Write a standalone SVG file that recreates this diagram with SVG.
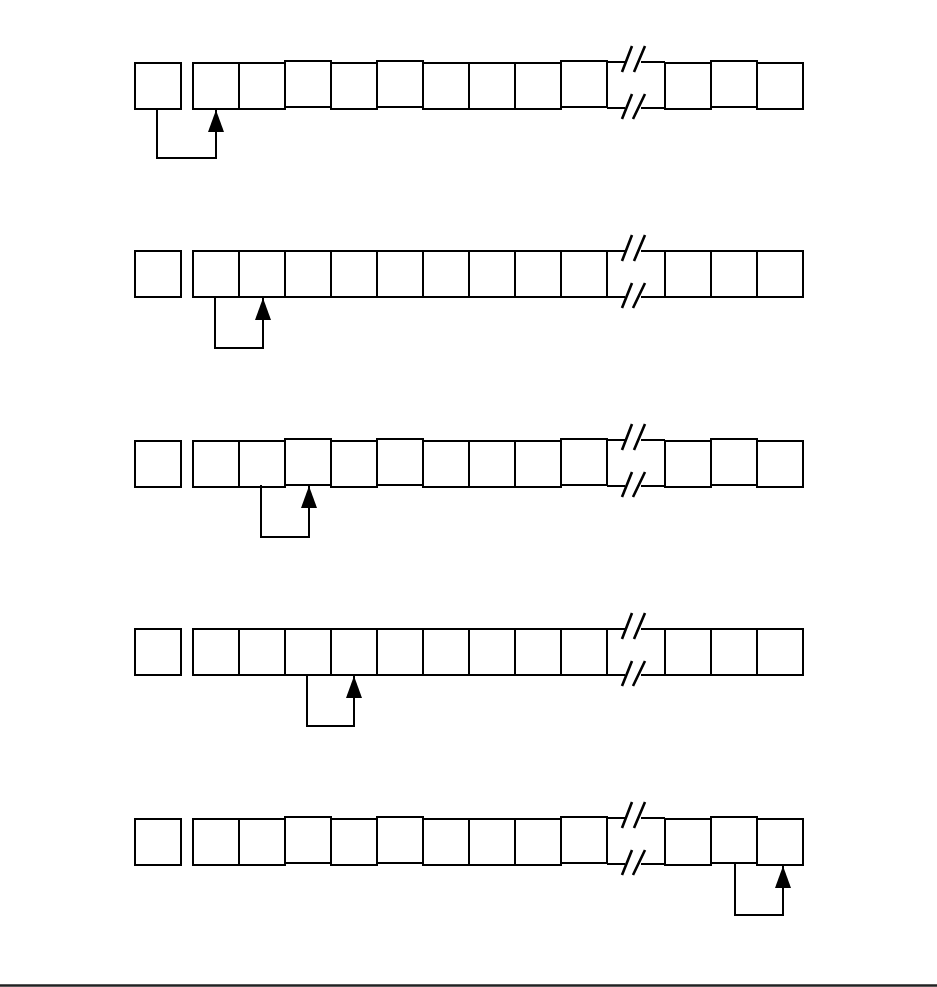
<svg xmlns="http://www.w3.org/2000/svg" width="937" height="987" viewBox="0 0 937 987">
<style>
.b{fill:none;stroke:#000;stroke-width:2}
.k{fill:none;stroke:#000;stroke-width:2}
.s{fill:none;stroke:#000;stroke-width:2.6}
.c{fill:none;stroke:#000;stroke-width:2}
</style>
<defs>
<marker id="ah" viewBox="0 0 22 16" refX="22" refY="8" markerWidth="22" markerHeight="16" markerUnits="userSpaceOnUse" orient="auto">
<path d="M0,0 L22,8 L0,16 z" fill="#000"/>
</marker>
<g id="brk">
<path class="k" d="M607,0 H625 M641,0 H665 M607,46 H625 M641,46 H665"/>
<path class="s" d="M622,10 L632,-16 M634,10 L645,-16 M622,57 L632,32 M633,57 L645,32"/>
</g>
</defs>
<rect width="937" height="987" fill="#fff"/>

<g id="row1">
<g id="r1b0"><rect class="b" x="135" y="63" width="46" height="46"/></g>
<g id="r1b1"><rect class="b" x="193" y="63" width="46" height="46"/></g>
<g id="r1b2"><rect class="b" x="239" y="63" width="46" height="46"/></g>
<g id="r1b3"><rect class="b" x="285" y="61" width="46" height="46"/></g>
<g id="r1b4"><rect class="b" x="331" y="63" width="46" height="46"/></g>
<g id="r1b5"><rect class="b" x="377" y="61" width="46" height="46"/></g>
<g id="r1b6"><rect class="b" x="423" y="63" width="46" height="46"/></g>
<g id="r1b7"><rect class="b" x="469" y="63" width="46" height="46"/></g>
<g id="r1b8"><rect class="b" x="515" y="63" width="46" height="46"/></g>
<g id="r1b9"><rect class="b" x="561" y="61" width="46" height="46"/></g>
<g id="r1brk"><use href="#brk" transform="translate(0,62)"/></g>
<g id="r1b11"><rect class="b" x="665" y="63" width="46" height="46"/></g>
<g id="r1b12"><rect class="b" x="711" y="61" width="46" height="46"/></g>
<g id="r1b13"><rect class="b" x="757" y="63" width="46" height="46"/></g>
</g>

<g id="row2">
<g id="r2b0"><rect class="b" x="135" y="251" width="46" height="46"/></g>
<g id="r2b1"><rect class="b" x="193" y="251" width="46" height="46"/></g>
<g id="r2b2"><rect class="b" x="239" y="251" width="46" height="46"/></g>
<g id="r2b3"><rect class="b" x="285" y="251" width="46" height="46"/></g>
<g id="r2b4"><rect class="b" x="331" y="251" width="46" height="46"/></g>
<g id="r2b5"><rect class="b" x="377" y="251" width="46" height="46"/></g>
<g id="r2b6"><rect class="b" x="423" y="251" width="46" height="46"/></g>
<g id="r2b7"><rect class="b" x="469" y="251" width="46" height="46"/></g>
<g id="r2b8"><rect class="b" x="515" y="251" width="46" height="46"/></g>
<g id="r2b9"><rect class="b" x="561" y="251" width="46" height="46"/></g>
<g id="r2brk"><use href="#brk" transform="translate(0,251)"/></g>
<g id="r2b11"><rect class="b" x="665" y="251" width="46" height="46"/></g>
<g id="r2b12"><rect class="b" x="711" y="251" width="46" height="46"/></g>
<g id="r2b13"><rect class="b" x="757" y="251" width="46" height="46"/></g>
</g>

<g id="row3">
<g id="r3b0"><rect class="b" x="135" y="441" width="46" height="46"/></g>
<g id="r3b1"><rect class="b" x="193" y="441" width="46" height="46"/></g>
<g id="r3b2"><rect class="b" x="239" y="441" width="46" height="46"/></g>
<g id="r3b3"><rect class="b" x="285" y="439" width="46" height="46"/></g>
<g id="r3b4"><rect class="b" x="331" y="441" width="46" height="46"/></g>
<g id="r3b5"><rect class="b" x="377" y="439" width="46" height="46"/></g>
<g id="r3b6"><rect class="b" x="423" y="441" width="46" height="46"/></g>
<g id="r3b7"><rect class="b" x="469" y="441" width="46" height="46"/></g>
<g id="r3b8"><rect class="b" x="515" y="441" width="46" height="46"/></g>
<g id="r3b9"><rect class="b" x="561" y="439" width="46" height="46"/></g>
<g id="r3brk"><use href="#brk" transform="translate(0,440)"/></g>
<g id="r3b11"><rect class="b" x="665" y="441" width="46" height="46"/></g>
<g id="r3b12"><rect class="b" x="711" y="439" width="46" height="46"/></g>
<g id="r3b13"><rect class="b" x="757" y="441" width="46" height="46"/></g>
</g>

<g id="row4">
<g id="r4b0"><rect class="b" x="135" y="629" width="46" height="46"/></g>
<g id="r4b1"><rect class="b" x="193" y="629" width="46" height="46"/></g>
<g id="r4b2"><rect class="b" x="239" y="629" width="46" height="46"/></g>
<g id="r4b3"><rect class="b" x="285" y="629" width="46" height="46"/></g>
<g id="r4b4"><rect class="b" x="331" y="629" width="46" height="46"/></g>
<g id="r4b5"><rect class="b" x="377" y="629" width="46" height="46"/></g>
<g id="r4b6"><rect class="b" x="423" y="629" width="46" height="46"/></g>
<g id="r4b7"><rect class="b" x="469" y="629" width="46" height="46"/></g>
<g id="r4b8"><rect class="b" x="515" y="629" width="46" height="46"/></g>
<g id="r4b9"><rect class="b" x="561" y="629" width="46" height="46"/></g>
<g id="r4brk"><use href="#brk" transform="translate(0,629)"/></g>
<g id="r4b11"><rect class="b" x="665" y="629" width="46" height="46"/></g>
<g id="r4b12"><rect class="b" x="711" y="629" width="46" height="46"/></g>
<g id="r4b13"><rect class="b" x="757" y="629" width="46" height="46"/></g>
</g>

<g id="row5">
<g id="r5b0"><rect class="b" x="135" y="819" width="46" height="46"/></g>
<g id="r5b1"><rect class="b" x="193" y="819" width="46" height="46"/></g>
<g id="r5b2"><rect class="b" x="239" y="819" width="46" height="46"/></g>
<g id="r5b3"><rect class="b" x="285" y="817" width="46" height="46"/></g>
<g id="r5b4"><rect class="b" x="331" y="819" width="46" height="46"/></g>
<g id="r5b5"><rect class="b" x="377" y="817" width="46" height="46"/></g>
<g id="r5b6"><rect class="b" x="423" y="819" width="46" height="46"/></g>
<g id="r5b7"><rect class="b" x="469" y="819" width="46" height="46"/></g>
<g id="r5b8"><rect class="b" x="515" y="819" width="46" height="46"/></g>
<g id="r5b9"><rect class="b" x="561" y="817" width="46" height="46"/></g>
<g id="r5brk"><use href="#brk" transform="translate(0,818)"/></g>
<g id="r5b11"><rect class="b" x="665" y="819" width="46" height="46"/></g>
<g id="r5b12"><rect class="b" x="711" y="817" width="46" height="46"/></g>
<g id="r5b13"><rect class="b" x="757" y="819" width="46" height="46"/></g>
</g>

<g id="connectors">
<path class="c" d="M157,108 V158 H216 V110" marker-end="url(#ah)"/>
<path class="c" d="M215,297 V348 H263 V298" marker-end="url(#ah)"/>
<path class="c" d="M261,485 V537 H309 V486" marker-end="url(#ah)"/>
<path class="c" d="M307,675 V726 H354 V676" marker-end="url(#ah)"/>
<path class="c" d="M735,863 V915 H783 V866" marker-end="url(#ah)"/>
</g>

<line x1="0" y1="985.5" x2="937" y2="985.5" stroke="#222" stroke-width="2.5"/>
</svg>
